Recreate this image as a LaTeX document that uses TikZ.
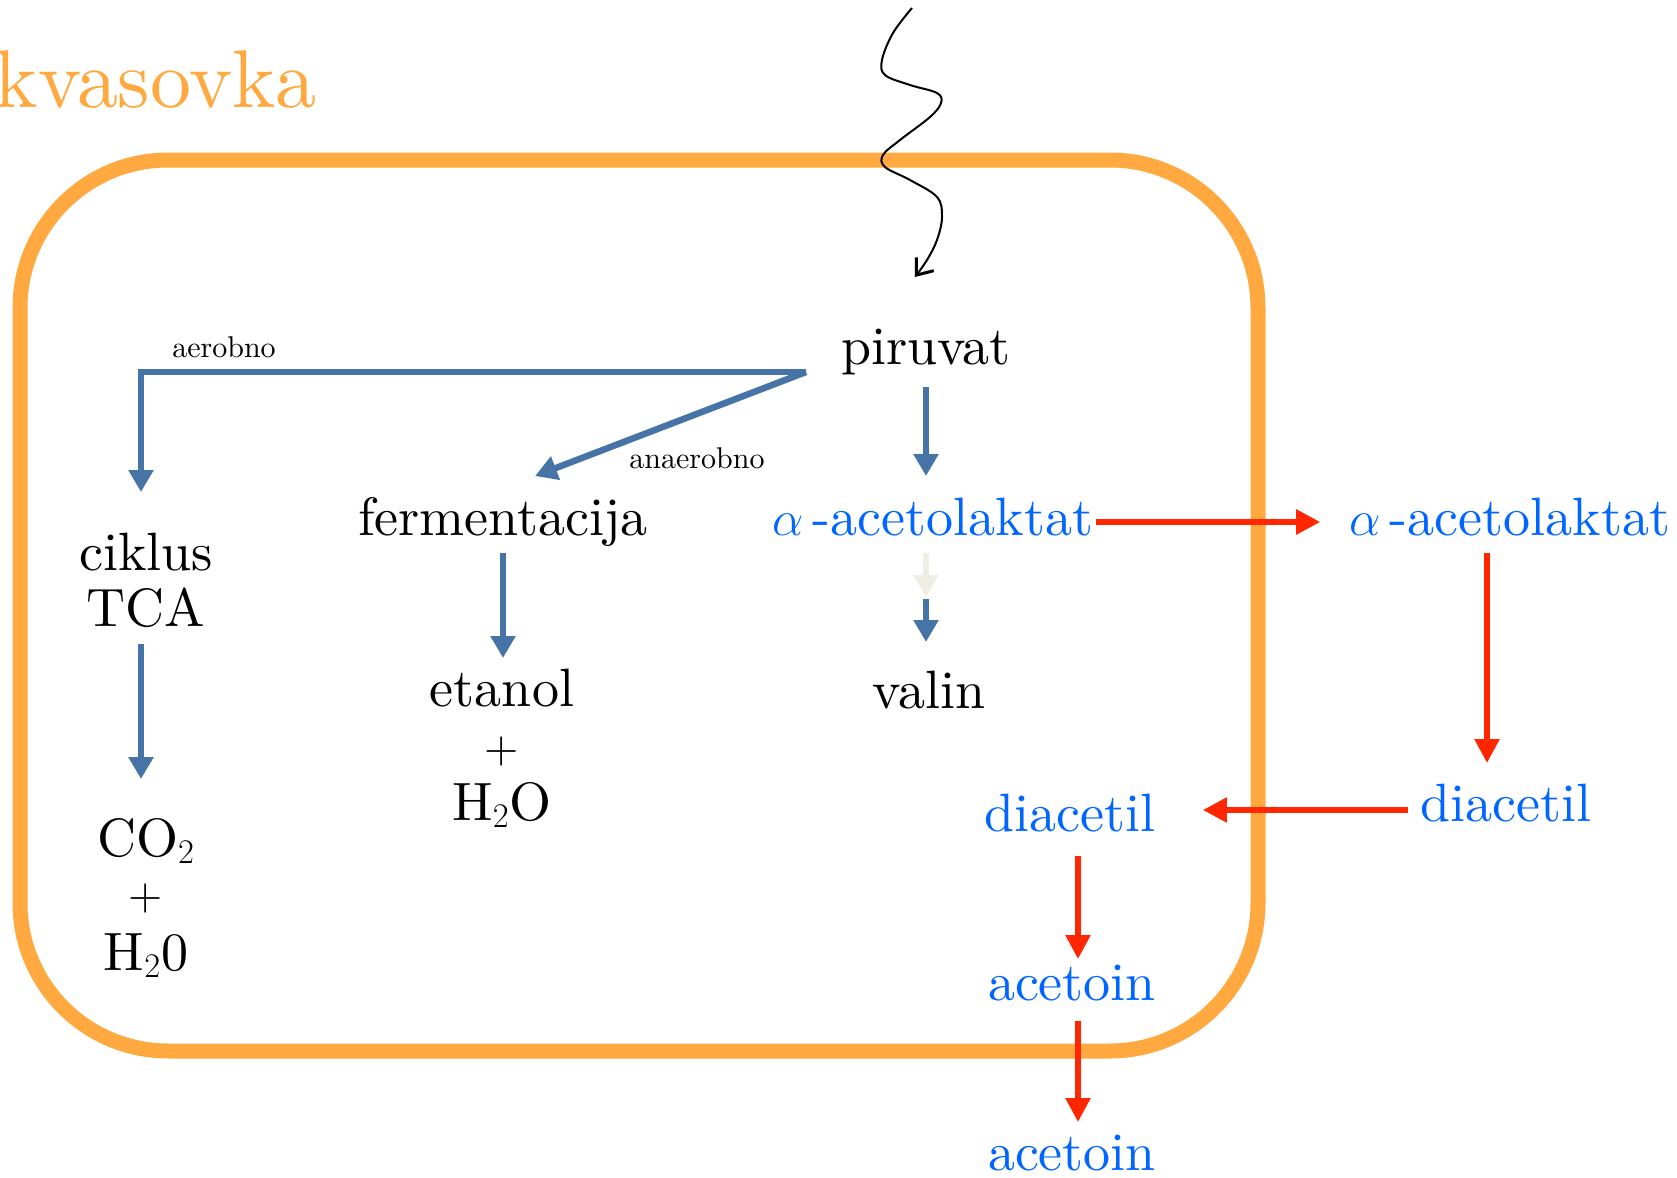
\documentclass[tikz,border=0pt]{standalone}
\usepackage{fontspec}
\setmainfont{lmroman10-regular}[Extension=.otf, ItalicFont=lmroman10-italic, BoldFont=lmroman10-bold]
\usetikzlibrary{arrows.meta,calc}
\definecolor{cellorange}{RGB}{255,169,64}
\definecolor{steel}{RGB}{70,116,166}
\definecolor{faded}{RGB}{238,238,228}
\definecolor{textblue}{RGB}{0,102,255}
\definecolor{arrred}{RGB}{255,38,0}
\begin{document}
\begin{tikzpicture}[x=0.5pt,y=-0.5pt,
  lbl/.style={inner sep=0pt, anchor=base, font=\fontsize{27}{30}\selectfont},
  plusl/.style={inner sep=0pt, anchor=base, font=\fontsize{22}{26}\selectfont},
  lblblue/.style={lbl, text=textblue},
  small/.style={inner sep=0pt, anchor=base, font=\fontsize{15}{18}\selectfont},
  barrow/.style={draw=steel, line width=3.25pt, line join=miter, -{Triangle[width=12pt,length=11pt]}},
  farrow/.style={draw=faded, line width=3.25pt, -{Triangle[width=12pt,length=11pt]}},
  rarrow/.style={draw=arrred, line width=2.75pt, -{Triangle[width=12pt,length=12pt]}},
  wave/.style={draw=black, line width=1pt, -{Straight Barb[length=7pt,width=11pt,line width=1.5pt]}}
]
\useasboundingbox (0,0) rectangle (1677,1178);

% cell
\draw[cellorange, line width=7.5pt, rounded corners=74pt] (20,160) rectangle (1258,1051);
\node[anchor=base east, inner sep=0pt, font=\fontsize{41}{45}\selectfont, text=cellorange] (kvas) at (317,107) {kvasovka};

% labels
\node[lbl] (piruvat) at (926,364) {piruvat};
\node[lbl] (ferm) at (503,535) {fermentacija};
\node[lbl] (ciklus) at (146,570) {ciklus};
\node[lbl] (tca) at (146,626) {TCA};
\node[lbl] (co2) at (146,856) {CO$_2$};
\node[plusl] (plusa) at (146,909) {+};
\node[lbl] (hdoa) at (146,970) {H$_2$0};
\node[lbl] (etanol) at (502,706) {etanol};
\node[plusl] (plusb) at (502,762) {+};
\node[lbl] (hdob) at (502,820) {H$_2$O};
\node[lbl] (valin) at (929,708) {valin};
\node[lblblue] (acet1) at (933,535) {$\alpha$\,-acetolaktat};
\node[lblblue] (acet2) at (1510,535) {$\alpha$\,-acetolaktat};
\node[lblblue] (diac2) at (1506,821) {diacetil};
\node[lblblue] (diac1) at (1070,831) {diacetil};
\node[lblblue] (acetoin1) at (1072,1000) {acetoin};
\node[lblblue] (acetoin2) at (1072,1170) {acetoin};
\node[small] (aer) at (224,357) {aerobno};
\node[small] (anaer) at (697,468) {anaerobno};

% incoming wavy arrow
\draw[wave] plot[smooth, tension=0.6] coordinates {(912,8) (893,33) (882,60) (885,75) (910,85) (937,93) (941,103) (930,117) (900,140) (883,155) (885,167) (910,180) (937,197) (942,217) (937,240) (927,260) (915,277)};

% blue connectors
\coordinate (fork) at ($(piruvat.base)+(-120,8)$);
\draw[barrow] (fork) -| ($(ciklus.base)+(-5,-78)$);
\draw[barrow] (fork) -- ($(ferm.base)+(32,-59)$);
\draw[barrow] ($(piruvat.base)+(0,23)$) -- ($(acet1.base)+(-7,-59)$);
\draw[barrow] ($(ferm.base)+(0,18)$) -- ($(etanol.base)+(1,-48)$);
\draw[barrow] ($(tca.base)+(-5,18)$) -- ($(co2.base)+(-5,-77)$);
\draw[farrow] ($(acet1.base)+(-7,18)$) -- ($(acet1.base)+(-7,62)$);
\draw[barrow] ($(acet1.base)+(-7,64)$) -- ($(valin.base)+(-3,-66)$);

% red connectors
\draw[rarrow] ($(acet1.base east)+(2,-13)$) -- ($(acet2.base west)+(-29,-13)$);
\draw[rarrow] ($(acet2.base)+(-23,18)$) -- ($(diac2.base)+(-19,-58)$);
\draw[rarrow] ($(diac2.base west)+(-12,-11)$) -- ($(diac1.base east)+(47,-21)$);
\draw[rarrow] ($(diac1.base)+(8,25)$) -- ($(acetoin1.base)+(6,-41)$);
\draw[rarrow] ($(acetoin1.base)+(6,21)$) -- ($(acetoin2.base)+(6,-48)$);
\end{tikzpicture}
\end{document}
